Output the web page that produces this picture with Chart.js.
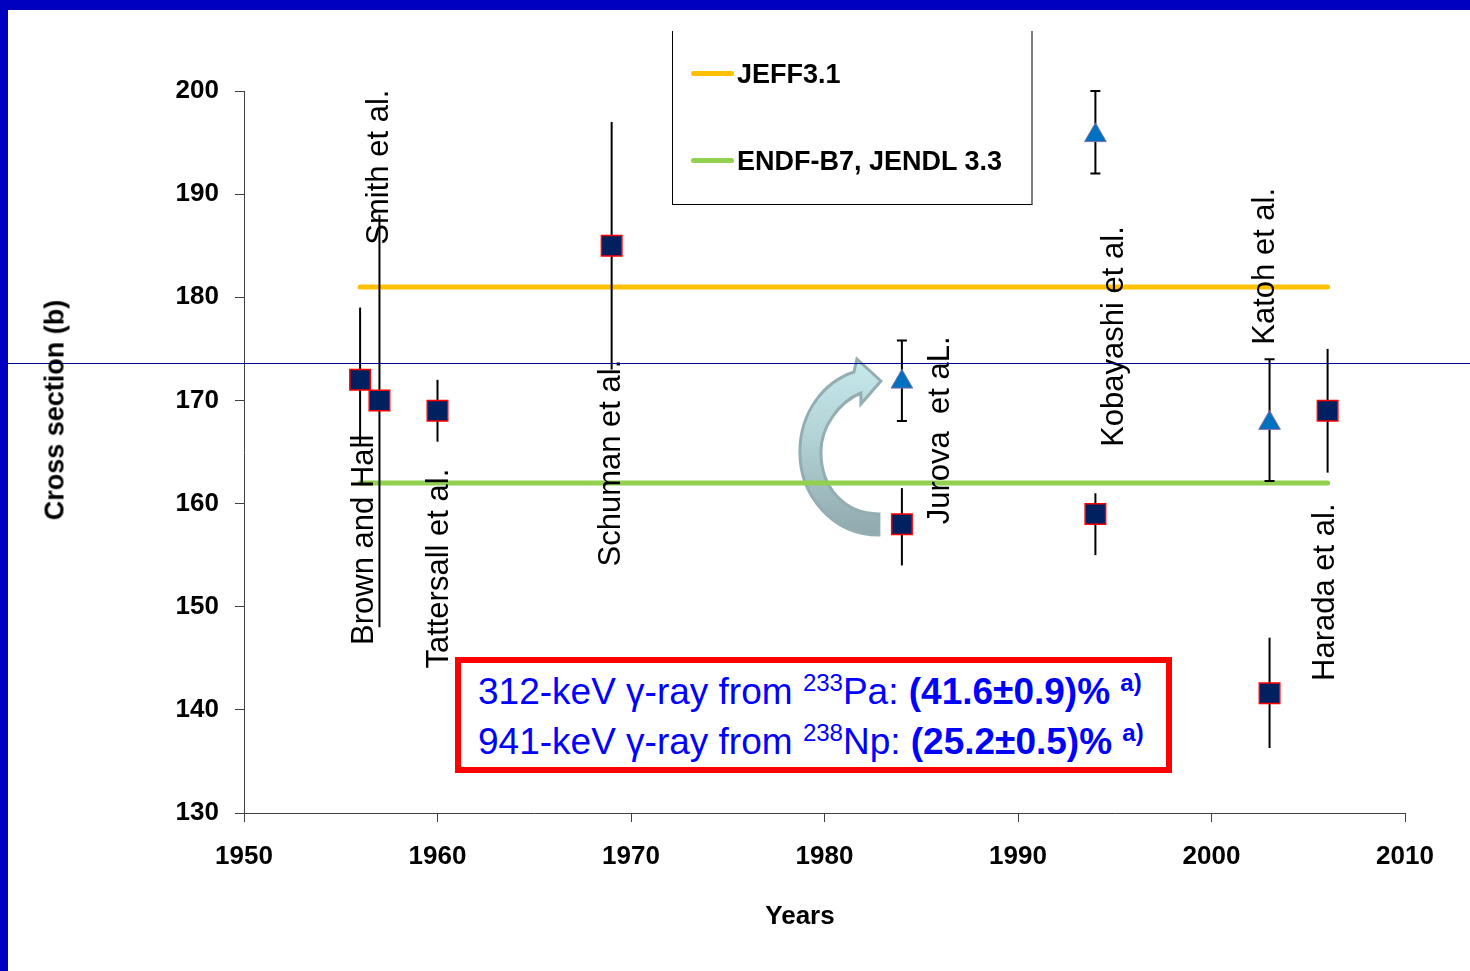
<!DOCTYPE html>
<html>
<head>
    <title>Cross section vs years</title>
    <script src="https://cdn.jsdelivr.net/npm/chart.js"></script>
    <style>
        html, body { margin: 0; padding: 0; background: #fff; }
        body { width: 1470px; height: 971px; position: relative; overflow: hidden; font-family: "Liberation Sans", Arial, sans-serif; }
        #wrap { position: absolute; left: 0; top: 0; width: 1470px; height: 971px; }
        .frame-left { position: absolute; left: 0; top: 0; width: 8px; height: 971px; background: #0000c0; }
        .frame-top { position: absolute; left: 0; top: 0; width: 1470px; height: 10px; background: #0000c0; }
        .hline { position: absolute; left: 8px; top: 363px; width: 1462px; height: 1px; background: #000090; }
        .ytitle { position: absolute; left: 55px; top: 410px; transform: translate(-50%, -50%) rotate(-90deg);
                  font-weight: bold; font-size: 27px; white-space: nowrap; color: #000; }
        .xtitle { position: absolute; left: 800px; top: 915px; transform: translate(-50%, -50%);
                  font-weight: bold; font-size: 26px; white-space: nowrap; color: #000; }
        .legend { position: absolute; left: 672px; top: 31px; width: 358px; height: 173px;
                  border-left: 1px solid #000; border-right: 2px solid #808080; border-bottom: 1px solid #000; }
        .legend .item { position: absolute; left: 18px; height: 30px; font-weight: bold; font-size: 27px; line-height: 30px; white-space: nowrap; }
        .legend .swatch { display: inline-block; width: 43px; height: 5px; border-radius: 3px; vertical-align: middle; margin-right: 3px; position: relative; top: -2px; }
        .note { position: absolute; left: 455px; top: 657px; width: 717px; height: 116px; box-sizing: border-box;
                border: 6px solid #ff0000; background: #fff; color: #0000ff; font-size: 37px; line-height: 46px;
                padding: 6px 0 0 17px; white-space: nowrap; }
        .note sup { font-size: 24px; vertical-align: 0; position: relative; top: -13px; }
    </style>
</head>
<body>
    <div id="wrap"><canvas id="xsChart" width="1470" height="971"></canvas></div>
    <div class="frame-left"></div>
    <div class="frame-top"></div>
    <div class="hline"></div>
    <div class="ytitle">Cross section (b)</div>
    <div class="xtitle">Years</div>
    <div class="legend">
        <div class="item" style="top: 28px;"><span class="swatch" style="background:#ffc000"></span>JEFF3.1</div>
        <div class="item" style="top: 115px;"><span class="swatch" style="background:#92d050"></span>ENDF-B7, JENDL 3.3</div>
    </div>
    <div class="note">
        <div>312-keV &gamma;-ray from <sup>233</sup>Pa: <b>(41.6&plusmn;0.9)%</b> <sup><b>a)</b></sup></div>
        <div>941-keV &gamma;-ray from <sup>238</sup>Np: <b>(25.2&plusmn;0.5)%</b> <sup><b>a)</b></sup></div>
    </div>

    <script>
        // measurements shown as squares
        const squareYears = [1956, 1957, 1960, 1969, 1984, 1994, 2003, 2006];
        const squareValues = [172, 170, 169, 185, 158, 159, 141.6, 169];
        const squareLow = [165.7, 148, 166, 173, 154, 155, 136.3, 163];
        const squareHigh = [179, 188, 172, 197, 161.5, 161, 147, 175];

        // re-evaluated values shown as triangles
        const triangleYears = [1984, 1994, 2003];
        const triangleValues = [171.8, 195.7, 167.8];
        const triangleLow = [168, 192, 162.2];
        const triangleHigh = [175.8, 200, 174];

        // evaluated libraries
        const libraryYears = [1956, 2006];
        const jeffValues = [181, 181];
        const endfValues = [162, 162];

        // author names, written upwards starting at (year, value)
        const authorNames = ["Brown and Hall", "Smith et al.", "Tattersall et al.", "Schuman et al.",
                             "Jurova  et aL.", "Kobayashi et al.", "Katoh et al.", "Harada et al."];
        const authorYears = [1956.2, 1957, 1960.1, 1969, 1986, 1995, 2002.8, 2005.9];
        const authorValues = [146.3, 185.1, 144, 153.9, 158, 165.5, 175.4, 142.8];

        const xTicks = [1950, 1960, 1970, 1980, 1990, 2000, 2010];
        const yTicks = [130, 140, 150, 160, 170, 180, 190, 200];

        const toPoints = (xs, ys) => xs.map((x, i) => ({ x: x, y: ys[i] }));

        const extras = {
            id: "extras",
            beforeDatasetsDraw(chart) {
                // curved arrow from the old Jurova value to the new one
                const ctx = chart.ctx;
                const x = chart.scales.x, y = chart.scales.y;
                const ax = x.getPixelForValue(1984) - 23;
                const ay = y.getPixelForValue(165);
                ctx.save();
                ctx.translate(ax, ay);
                ctx.beginPath();
                ctx.moveTo(0, 83);
                ctx.bezierCurveTo(-45, 83, -79, 45, -79, 0);
                ctx.bezierCurveTo(-79, -40, -55, -70, -25, -80);
                ctx.lineTo(-22, -93);
                ctx.lineTo(2, -71);
                ctx.lineTo(-18, -48);
                ctx.lineTo(-18, -59);
                ctx.bezierCurveTo(-40, -50, -58, -25, -58, 0);
                ctx.bezierCurveTo(-58, 35, -35, 62, 0, 62);
                ctx.closePath();
                const g = ctx.createLinearGradient(0, -93, 0, 83);
                g.addColorStop(0, "#c6e9ec");
                g.addColorStop(0.45, "#b3d2d6");
                g.addColorStop(1, "#8fa9ad");
                ctx.fillStyle = g;
                ctx.fill();
                ctx.lineWidth = 3;
                ctx.strokeStyle = "#93adb1";
                ctx.stroke();
                ctx.restore();
            },
            beforeDatasetDraw(chart, args) {
                const ds = chart.data.datasets[args.index];
                if (!ds.errLow) return;
                const ctx = chart.ctx;
                const x = chart.scales.x, y = chart.scales.y;
                ctx.save();
                ctx.strokeStyle = "#000";
                ctx.lineWidth = 2;
                ds.data.forEach((p, i) => {
                    const px = x.getPixelForValue(p.x);
                    const lo = y.getPixelForValue(ds.errLow[i]);
                    const hi = y.getPixelForValue(ds.errHigh[i]);
                    ctx.beginPath();
                    ctx.moveTo(px, lo);
                    ctx.lineTo(px, hi);
                    if (ds.capped) {
                        ctx.moveTo(px - 5, lo);
                        ctx.lineTo(px + 5, lo);
                        ctx.moveTo(px - 5, hi);
                        ctx.lineTo(px + 5, hi);
                    }
                    ctx.stroke();
                });
                ctx.restore();
            },
            afterDatasetsDraw(chart) {
                const ctx = chart.ctx;
                const x = chart.scales.x, y = chart.scales.y;
                ctx.save();
                ctx.fillStyle = "#000";
                ctx.font = "31px 'Liberation Sans', Arial, sans-serif";
                ctx.textAlign = "left";
                ctx.textBaseline = "middle";
                authorNames.forEach((name, i) => {
                    ctx.save();
                    ctx.translate(x.getPixelForValue(authorYears[i]), y.getPixelForValue(authorValues[i]));
                    ctx.rotate(-Math.PI / 2);
                    ctx.fillText(name, 0, 0);
                    ctx.restore();
                });
                ctx.restore();
            }
        };

        const tickFont = { family: "'Liberation Sans', Arial, sans-serif", size: 26, weight: "bold" };

        const ctx = document.getElementById("xsChart").getContext("2d");
        const xsChart = new Chart(ctx, {
            type: "scatter",
            data: {
                datasets: [
                    {
                        label: "JEFF3.1",
                        type: "line",
                        data: toPoints(libraryYears, jeffValues),
                        borderColor: "#ffc000",
                        borderWidth: 5,
                        borderCapStyle: "round",
                        pointRadius: 0,
                        order: 3
                    },
                    {
                        label: "ENDF-B7, JENDL 3.3",
                        type: "line",
                        data: toPoints(libraryYears, endfValues),
                        borderColor: "#92d050",
                        borderWidth: 5,
                        borderCapStyle: "round",
                        pointRadius: 0,
                        order: 2
                    },
                    {
                        label: "Measurements",
                        data: toPoints(squareYears, squareValues),
                        errLow: squareLow,
                        errHigh: squareHigh,
                        capped: false,
                        pointStyle: "rect",
                        pointRadius: 14.5,
                        pointHoverRadius: 14.5,
                        backgroundColor: "#002060",
                        borderColor: "#ff0000",
                        borderWidth: 1.5,
                        order: 1
                    },
                    {
                        label: "Re-evaluated",
                        data: toPoints(triangleYears, triangleValues),
                        errLow: triangleLow,
                        errHigh: triangleHigh,
                        capped: true,
                        pointStyle: "triangle",
                        pointRadius: 12.5,
                        pointHoverRadius: 12.5,
                        backgroundColor: "#0070c0",
                        borderColor: "#7f6fa8",
                        borderWidth: 1,
                        order: 0
                    }
                ]
            },
            options: {
                responsive: false,
                animation: false,
                events: [],
                layout: { padding: { left: 0, top: 91, right: 65, bottom: 0 } },
                scales: {
                    x: {
                        type: "linear",
                        min: xTicks[0],
                        max: xTicks[xTicks.length - 1],
                        afterBuildTicks: (s) => { s.ticks = xTicks.map(v => ({ value: v })); },
                        afterFit: (s) => { s.height = 158; },
                        ticks: { color: "#000", font: tickFont, padding: 19, maxRotation: 0, callback: v => String(v) },
                        grid: { drawOnChartArea: false, tickLength: 9, color: "#404040" },
                        border: { color: "#404040", width: 1 }
                    },
                    y: {
                        min: yTicks[0],
                        max: yTicks[yTicks.length - 1],
                        afterBuildTicks: (s) => { s.ticks = yTicks.map(v => ({ value: v })); },
                        afterFit: (s) => { s.width = 244; },
                        ticks: { color: "#000", font: tickFont, padding: 16, callback: v => String(v) },
                        grid: { drawOnChartArea: false, tickLength: 9, color: "#404040" },
                        border: { color: "#404040", width: 1 }
                    }
                },
                plugins: {
                    legend: { display: false },
                    tooltip: { enabled: false }
                }
            },
            plugins: [extras]
        });
    </script>
</body>
</html>
